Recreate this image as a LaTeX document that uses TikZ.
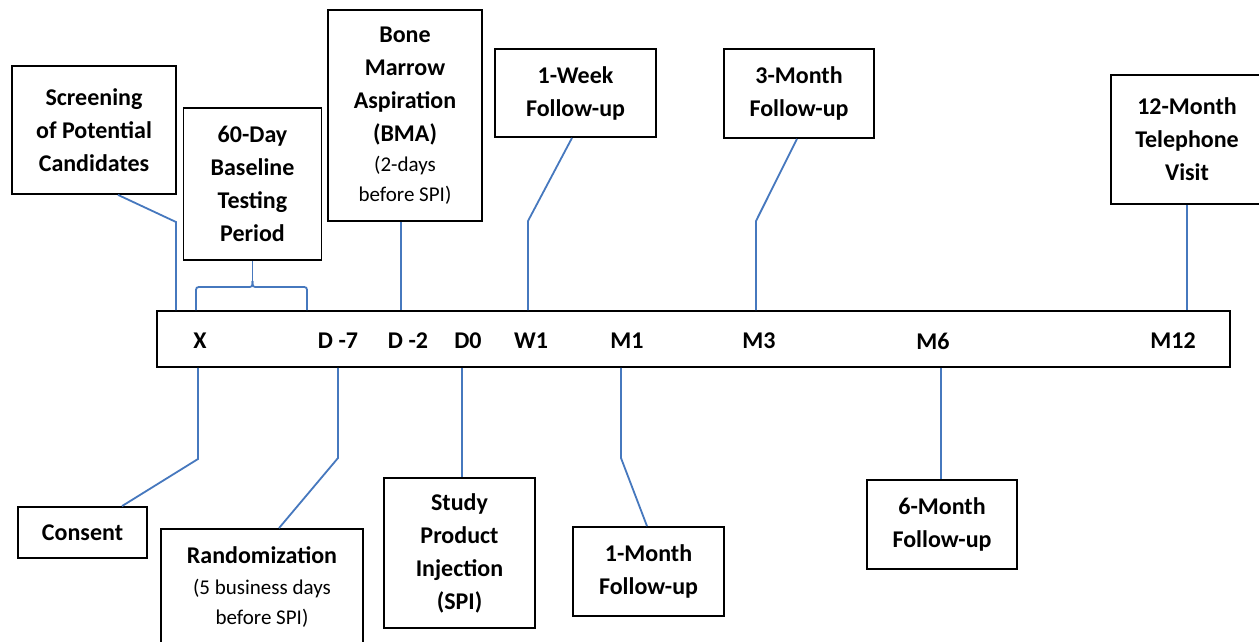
\documentclass[tikz,border=0pt]{standalone}
\usepackage{fontspec}
\setmainfont{Carlito}
\usetikzlibrary{calc}
\definecolor{linkblue}{RGB}{70,120,190}
\newcommand{\regtxt}{\fontsize{21}{30}\selectfont\mdseries}
\begin{document}
\begin{tikzpicture}[x=1pt,y=-1pt,
  box/.style={draw=black, line width=1.8pt, fill=white, align=center, inner sep=2pt,
              font=\fontsize{24}{33}\selectfont\bfseries},
  ticklabel/.style={font=\fontsize{24}{29}\selectfont\bfseries, inner sep=0pt},
  conn/.style={draw=linkblue, line width=1.8pt}
]
\clip (0,0) rectangle (1259,642);
\fill[white] (0,0) rectangle (1259,642);

% timeline
\node[box, minimum width=1073pt, minimum height=56pt] (tl) at (693.5,339) {};
\node[ticklabel] (lX)  at (200,341) {X};
\node[ticklabel] (lD7) at (338,341) {D -7};
\node[ticklabel] (lD2) at (408,341) {D -2};
\node[ticklabel] (lD0) at (468,341) {D0};
\node[ticklabel] (lW1) at (531,341) {W1};
\node[ticklabel] (lM1) at (627,341) {M1};
\node[ticklabel] (lM3) at (759,341) {M3};
\node[ticklabel] (lM6) at (933,341) {M6};
\node[ticklabel] (lM12) at (1173,341) {M12};

% upper boxes
\node[box, minimum width=164pt, minimum height=128pt] (scr) at (94,130)
  {Screening\\of Potential\\Candidates};
\node[box, minimum width=138pt, minimum height=152pt] (base) at (252.5,184)
  {60-Day\\Baseline\\Testing\\Period};
\node[box, minimum width=154pt, minimum height=211pt] (bma) at (405,115.5)
  {Bone\\Marrow\\Aspiration\\(BMA)\\[-3pt]\regtxt (2-days\\[-3pt]\regtxt before SPI)};
\node[box, minimum width=161pt, minimum height=88pt] (wk1) at (575.5,93)
  {1-Week\\Follow-up};
\node[box, minimum width=150pt, minimum height=89pt] (mo3) at (799,93.5)
  {3-Month\\Follow-up};
\node[box, minimum width=152pt, minimum height=129pt] (mo12) at (1187,139.5)
  {12-Month\\Telephone\\Visit};

% lower boxes
\node[box, minimum width=129pt, minimum height=51pt] (cons) at (82.5,532.5) {Consent};
\node[box, minimum width=202pt, minimum height=116pt] (rand) at (262,587)
  {Randomization\\[-2pt]\regtxt (5 business days\\[-3pt]\regtxt before SPI)};
\node[box, minimum width=151pt, minimum height=150pt] (spi) at (459.5,553)
  {Study\\Product\\Injection\\(SPI)};
\node[box, minimum width=151pt, minimum height=89pt] (mo1) at (648.5,571.5)
  {1-Month\\Follow-up};
\node[box, minimum width=150pt, minimum height=89pt] (mo6) at (942,524.5)
  {6-Month\\Follow-up};

% bend points
\coordinate (a1) at (176,222);
\coordinate (c1) at ($(bma.south)+(-4,0)$);
\coordinate (d1) at (528,221);
\coordinate (e1) at (756,221);
\coordinate (g1) at (198,459);
\coordinate (h1) at (338,458);
\coordinate (i1) at ($(spi.north)+(2.5,0)$);
\coordinate (j1) at (621,458);
\coordinate (k1) at ($(mo6.north)+(-1,0)$);
\coordinate (brL) at (196,287);
\coordinate (brR) at (307,287);
\coordinate (brT) at (252.5,281);

% upper connectors
\draw[conn] ($(scr.south)+(24,0)$) -- (a1) -- (a1 |- tl.north);
\draw[conn] (base.south) -- (brT);
\draw[conn] (brL |- tl.north) -- (196,293) .. controls (196,287) .. (202,287)
  -- (246.5,287) .. controls (252.5,287) .. (brT);
\draw[conn] (brR |- tl.north) -- (307,293) .. controls (307,287) .. (301,287)
  -- (258.5,287) .. controls (252.5,287) .. (brT);
\draw[conn] (c1) -- (c1 |- tl.north);
\draw[conn] ($(wk1.south)+(-3.5,0)$) -- (d1) -- (d1 |- tl.north);
\draw[conn] ($(mo3.south)+(-2,0)$) -- (e1) -- (e1 |- tl.north);
\draw[conn] (mo12.south) -- (mo12.south |- tl.north);

% lower connectors
\draw[conn] (g1 |- tl.south) -- (g1) -- ($(cons.north)+(39.5,0)$);
\draw[conn] (h1 |- tl.south) -- (h1) -- ($(rand.north)+(17,0)$);
\draw[conn] (i1 |- tl.south) -- (i1);
\draw[conn] (j1 |- tl.south) -- (j1) -- ($(mo1.north)+(-1.5,0)$);
\draw[conn] (k1 |- tl.south) -- (k1);
\end{tikzpicture}
\end{document}
